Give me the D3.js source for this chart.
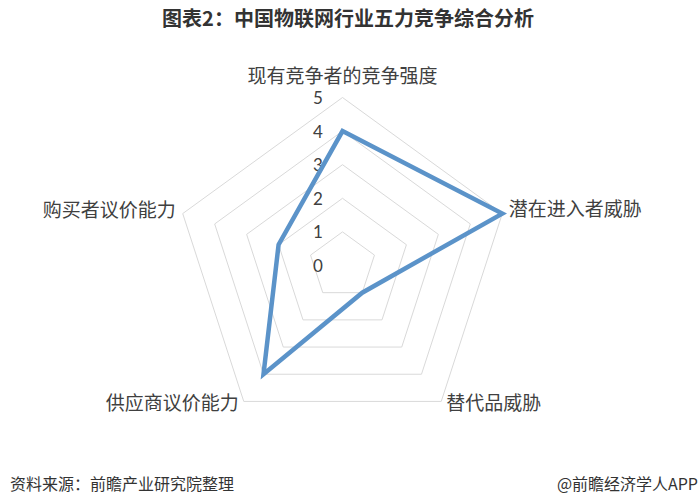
<!DOCTYPE html>
<html>
<head>
<meta charset="utf-8">
<script src="https://cdn.jsdelivr.net/npm/d3@7/dist/d3.min.js"></script>
<style>
  html, body { margin: 0; padding: 0; background: #ffffff; }
  svg { display: block; }
</style>
</head>
<body>
<svg id="chart" width="700" height="500"></svg>
<script>
// ---- data ----
const categories = ["现有竞争者的竞争强度", "潜在进入者威胁", "替代品威胁", "供应商议价能力", "购买者议价能力"];
const values = [4, 5, 1, 4, 2];
const tickLabels = [0, 1, 2, 3, 4, 5];
const titleText = "图表2：中国物联网行业五力竞争综合分析";
const sourceText = "资料来源：前瞻产业研究院整理";
const brandText = "@前瞻经济学人APP";

// ---- layout ----
const W = 700, H = 500;
const cx = 342.5, cy = 265.5, R = 168;
const cjk = "'Noto Sans CJK SC', 'Noto Sans', sans-serif";

const svg = d3.select("#chart");
svg.append("rect").attr("width", W).attr("height", H).attr("fill", "#fff");

const r = d3.scaleLinear().domain([0, 5]).range([0, R]);
const angle = d3.scalePoint().domain(categories).range([0, 2 * Math.PI * (categories.length - 1) / categories.length]);

const pt = (cat, v) => {
  const a = angle(cat) - Math.PI / 2;
  return [cx + r(v) * Math.cos(a), cy + r(v) * Math.sin(a)];
};

// grid rings (1..5)
const g = svg.append("g");
tickLabels.filter(t => t > 0).forEach(t => {
  g.append("polygon")
    .attr("points", categories.map(c => pt(c, t).join(",")).join(" "))
    .attr("fill", "none")
    .attr("stroke", "#d9d9d9")
    .attr("stroke-width", 1);
});

// tick labels
g.selectAll("text.tick").data(tickLabels).enter().append("text")
  .attr("class", "tick")
  .attr("x", cx - 24.5)
  .attr("y", d => cy - r(d))
  .attr("text-anchor", "middle")
  .attr("dominant-baseline", "central")
  .attr("font-family", "Lato, 'Open Sans', sans-serif")
  .attr("font-size", 17)
  .attr("fill", "#404040")
  .text(d => d);

// data polygon
const line = d3.line().curve(d3.curveLinearClosed);
svg.append("path")
  .attr("d", line(categories.map((c, i) => pt(c, values[i]))))
  .attr("fill", "none")
  .attr("stroke", "#5b93c9")
  .attr("stroke-width", 4.5)
  .attr("stroke-linejoin", "miter");

// category labels
const labelOffsets = [
  { dx: 0, dy: -23, anchor: "middle" },
  { dx: 6.5, dy: -6, anchor: "start" },
  { dx: 5, dy: 0, anchor: "start" },
  { dx: -5, dy: 0, anchor: "end" },
  { dx: -7, dy: -5, anchor: "end" }
];
categories.forEach((c, i) => {
  const p = pt(c, 5);
  const o = labelOffsets[i];
  svg.append("text")
    .attr("x", p[0] + o.dx)
    .attr("y", p[1] + o.dy)
    .attr("text-anchor", o.anchor)
    .attr("dominant-baseline", "central")
    .attr("font-family", cjk)
    .attr("font-size", 19)
    .attr("fill", "#404040")
    .text(c);
});

// title
svg.append("text")
  .attr("x", 348).attr("y", 17)
  .attr("text-anchor", "middle")
  .attr("dominant-baseline", "central")
  .attr("font-family", cjk)
  .attr("font-weight", "bold")
  .attr("font-size", 20)
  .attr("fill", "#333333")
  .text(titleText);

// footer
svg.append("text")
  .attr("x", 10).attr("y", 483)
  .attr("dominant-baseline", "central")
  .attr("font-family", cjk)
  .attr("font-size", 16)
  .attr("fill", "#333333")
  .text(sourceText);

svg.append("text")
  .attr("x", 698).attr("y", 483)
  .attr("text-anchor", "end")
  .attr("dominant-baseline", "central")
  .attr("font-family", cjk)
  .attr("font-size", 16)
  .attr("fill", "#333333")
  .text(brandText);
</script>
</body>
</html>
